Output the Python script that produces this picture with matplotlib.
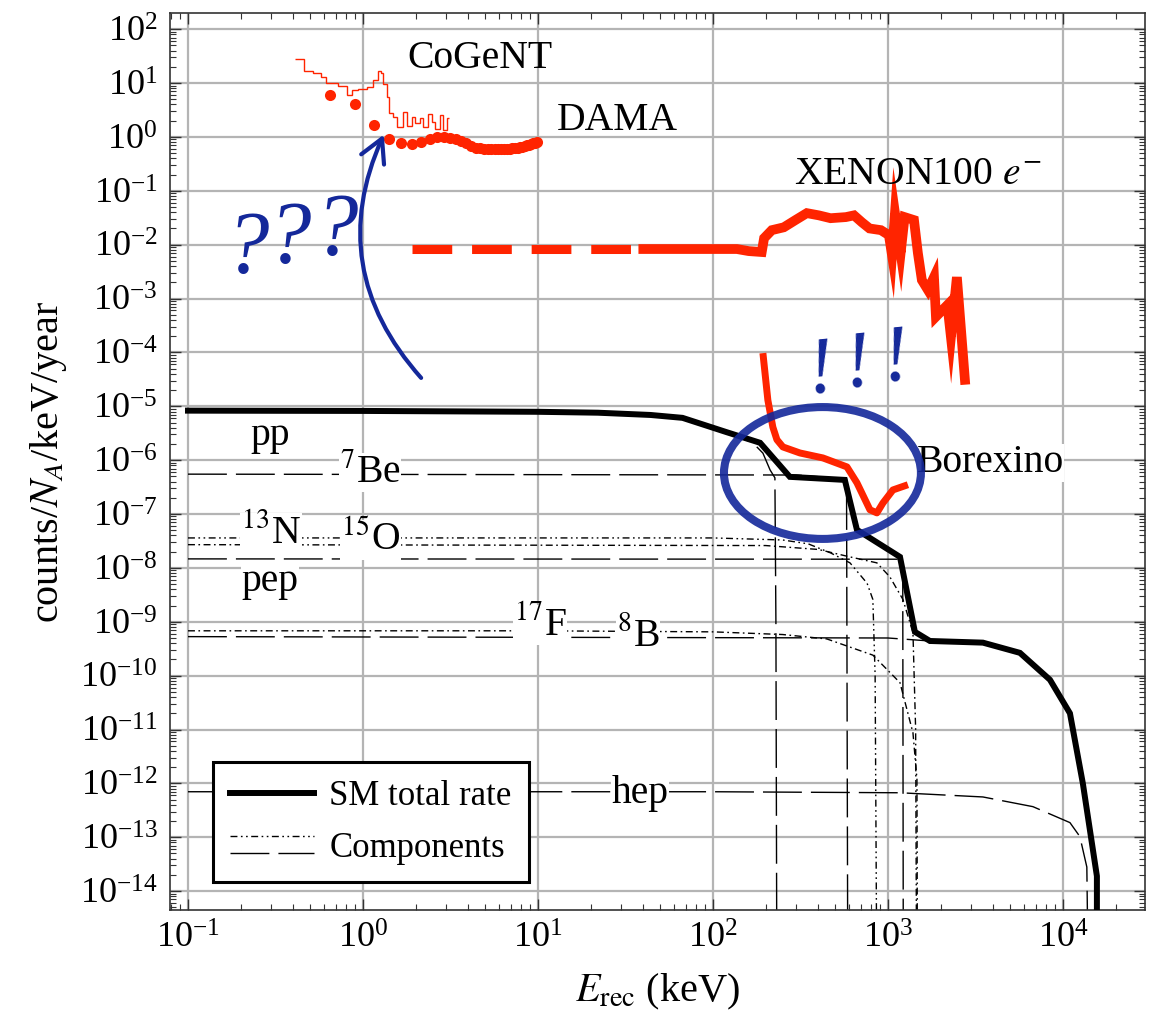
import numpy as np
import matplotlib
matplotlib.use("Agg")
import matplotlib.pyplot as plt
from matplotlib.lines import Line2D
from matplotlib.patches import Ellipse, FancyArrowPatch
from matplotlib.legend_handler import HandlerBase
from matplotlib.ticker import LogLocator, NullFormatter

plt.rcParams['font.family'] = ['Liberation Serif', 'DejaVu Serif']
plt.rcParams['mathtext.fontset'] = 'stix'

# --- SM total rate (keV, counts/N_A/keV/year)
sm_x = [0.1, 1.0, 10, 22, 44, 67, 120, 186, 275, 567, 665, 1172, 1426, 1738,
        3490, 5680, 8430, 10970, 13000, 15640, 15640]
sm_y = [8.3e-6, 8.2e-6, 7.9e-6, 7.6e-6, 6.9e-6, 6.1e-6, 3.3e-6, 2.1e-6, 4.9e-7,
        4.3e-7, 5.1e-8, 1.6e-8, 6.5e-10, 4.4e-10, 4.1e-10, 2.65e-10, 8.4e-11,
        2.0e-11, 1.0e-12, 1.9e-14, 1e-16]

# --- components
pp_x = [0.1, 1.0, 10, 44, 67, 120, 169, 193, 212, 226, 229, 232]
pp_y = [8.3e-6, 8.2e-6, 7.9e-6, 6.9e-6, 6.1e-6, 3.3e-6, 2.1e-6, 1.35e-6, 6.6e-7,
        4.7e-7, 1e-9, 1e-16]
be7_x = [0.1, 300, 580, 590]
be7_y = [5.5e-7, 5.3e-7, 4.5e-7, 1e-16]
n13_x = [0.1, 100, 250, 350, 470, 607, 760, 820, 845, 865]
n13_y = [3.6e-8, 3.6e-8, 3.3e-8, 2.8e-8, 1.9e-8, 1.24e-8, 5.2e-9, 2.6e-9, 1e-10, 1e-16]
o15_x = [0.1, 200, 400, 607, 865, 1026, 1218, 1390, 1440, 1460]
o15_y = [2.7e-8, 2.6e-8, 2.2e-8, 1.6e-8, 1.24e-8, 6.8e-9, 2.6e-9, 6.3e-10, 1e-11, 1e-16]
pep_x = [0.1, 1215, 1225]
pep_y = [1.47e-8, 1.45e-8, 1e-16]
f17_x = [0.1, 10, 100, 250, 448, 821, 1172, 1390, 1465, 1475]
f17_y = [6.8e-10, 6.8e-10, 6.5e-10, 5.8e-10, 4.8e-10, 2.4e-10, 7.4e-11, 8.7e-12,
         1.2e-12, 1e-16]
b8_x = [0.1, 1000, 1738, 3490, 5680, 8430, 10970, 13000, 15640, 15700]
b8_y = [5.3e-10, 5.0e-10, 4.4e-10, 4.1e-10, 2.65e-10, 8.4e-11, 2.0e-11, 1.0e-12,
        1.9e-14, 1e-16]
hep_x = [0.1, 100, 1172, 3490, 6740, 10970, 12500, 13700, 14000]
hep_y = [7e-13, 7e-13, 6.7e-13, 5.6e-13, 3.7e-13, 1.87e-13, 1.03e-13, 2.8e-14, 1e-16]

# --- experiments
cogent_edges = [0.408, 0.46, 0.52, 0.573, 0.615, 0.723, 0.813, 0.861, 0.94, 1.05,
                1.135, 1.213, 1.262, 1.306, 1.365, 1.413, 1.476, 1.57, 1.70, 1.78,
                1.90, 1.98, 2.12, 2.21, 2.36, 2.47, 2.58, 2.75, 2.88, 3.01, 3.10]
cogent_vals = [27.4, 16.8, 15.1, 12.7, 10.1, 8.75, 6.1, 7.4, 7.9, 8.3, 11.3, 16.6,
               15.1, 9.8, 5.5, 2.73, 2.36, 1.54, 2.92, 1.6, 2.36, 1.78, 2.2, 1.54,
               2.72, 1.91, 1.43, 2.53, 1.33, 2.2]

dama_x = [0.65, 0.9, 1.15, 1.4, 1.65, 1.9, 2.15, 2.4, 2.65, 2.9, 3.15, 3.4, 3.65,
          3.9, 4.15, 4.4, 4.65, 4.9, 5.15, 5.4, 5.65, 5.9, 6.15, 6.4, 6.65, 6.9,
          7.15, 7.4, 7.65, 7.9, 8.15, 8.4, 8.65, 8.9, 9.15, 9.4, 9.65, 9.9]
dama_y = [6.0, 4.0, 1.7, 0.9, 0.78, 0.73, 0.82, 0.93, 0.98, 1.0, 0.97, 0.92, 0.84,
          0.76, 0.67, 0.63, 0.61, 0.6, 0.6, 0.6, 0.6, 0.6, 0.6, 0.6, 0.6, 0.6,
          0.61, 0.62, 0.63, 0.64, 0.66, 0.68, 0.7, 0.72, 0.74, 0.76, 0.77, 0.79]

xe_dash_x = [1.9, 40]
xe_dash_y = [8.3e-3, 8.3e-3]
xe_x = [40, 137, 160, 190, 196, 217, 254, 296, 344, 403, 470, 575, 640, 710, 785,
        912, 1013, 1055, 1097, 1182, 1245, 1409, 1483, 1563, 1693, 1833, 1881,
        2188, 2291, 2478, 2754]
xe_y = [8.3e-3, 8.3e-3, 7.6e-3, 7.3e-3, 1.32e-2, 1.86e-2, 2.1e-2, 2.86e-2, 3.85e-2,
        3.5e-2, 3.1e-2, 3.25e-2, 3.5e-2, 2.6e-2, 2.0e-2, 1.86e-2, 1.5e-2, 6.4e-3,
        3.85e-2, 7e-3, 3.25e-2, 2.86e-2, 7e-3, 2.2e-3, 1.44e-3, 2.5e-3, 4.6e-4,
        7.6e-4, 1.94e-4, 2.5e-3, 3.1e-5]

borex_x = [193, 206, 220, 232, 251, 314, 425, 583, 665, 789, 865, 936, 1068, 1301]
borex_y = [9.7e-5, 1.3e-5, 4.1e-6, 2.4e-6, 1.76e-6, 1.36e-6, 1.1e-6, 7.5e-7, 3.8e-7,
           1.2e-7, 1.05e-7, 1.6e-7, 2.8e-7, 3.5e-7]

RED = '#ff2400'
BLUE = '#14289a'
LONG = (0, (28, 6.5))
DDOT = (0, (5, 2.5, 1.2, 2.5, 1.2, 2.5))
DDASH = (0, (5, 2.5, 1.2, 2.5))


class StackedHandler(HandlerBase):
    def create_artists(self, legend, orig_handle, xdescent, ydescent,
                       width, height, fontsize, trans):
        arts = []
        for h, f in zip(orig_handle, (0.85, 0.15)):
            y = -ydescent + f * height
            ln = Line2D([-xdescent, -xdescent + width], [y, y])
            ln.update_from(h)
            ln.set_transform(trans)
            arts.append(ln)
        return arts


fig = plt.figure(figsize=(11.61, 10.25), dpi=100)
ax = fig.add_axes([0.1464, 0.1122, 0.8398, 0.8751])
ax.set_xscale('log')
ax.set_yscale('log')
ax.set_xlim(10 ** -1.103, 10 ** 4.469)
ax.set_ylim(10 ** -14.35, 10 ** 2.3)

ax.grid(True, which='major', color='#b4b4b4', lw=1.6)
ax.set_axisbelow(True)

# components
thin = dict(color='black', lw=1.0, zorder=2)
ax.plot(pp_x, pp_y, ls=LONG, **thin)
ax.plot(be7_x, be7_y, ls=LONG, **thin)
ax.plot(n13_x, n13_y, ls=DDOT, **thin)
ax.plot(o15_x, o15_y, ls=DDASH, **thin)
ax.plot(pep_x, pep_y, ls=LONG, **thin)
ax.plot(f17_x, f17_y, ls=DDASH, **thin)
ax.plot(b8_x, b8_y, ls=LONG, **thin)
ax.plot(hep_x, hep_y, ls=LONG, **thin)

sm_line, = ax.plot(sm_x, sm_y, color='black', lw=4.3, zorder=3,
                   solid_joinstyle='miter')

# experiments
ax.stairs(cogent_vals, cogent_edges, baseline=None, color=RED, lw=1.0, zorder=3)
ax.plot(dama_x, dama_y, 'o', color=RED, ms=8, mec='none', zorder=3)
ax.plot(xe_dash_x, xe_dash_y, color=RED, lw=6.5, ls=(0, (4.4, 2.2)),
        solid_capstyle='butt', dash_capstyle='butt', zorder=3)
ax.plot(xe_x, xe_y, color=RED, lw=7, zorder=3, solid_joinstyle='miter')
ax.plot(borex_x, borex_y, color=RED, lw=5, zorder=3, solid_capstyle='butt')

# labels
FS = 28.5
lab = dict(ha='center', va='center', fontsize=FS, zorder=4,
           bbox=dict(facecolor='white', edgecolor='none', pad=0.5))
ax.text(0.294, 2.9e-6, 'pp', **lab)
ax.text(1.1, 5.8e-7, r'$^{7}$Be', **lab)
ax.text(0.298, 4.5e-8, r'$^{13}$N', **lab)
ax.text(1.1, 3.3e-8, r'$^{15}$O', **lab)
ax.text(0.294, 5.5e-9, 'pep', **lab)
ax.text(10.3, 8.7e-10, r'$^{17}$F', **lab)
ax.text(37.3, 5.5e-10, r'$^{8}$B', **lab)
ax.text(38.3, 6.5e-13, 'hep', **lab)
ax.text(3830, 8.9e-7, 'Borexino', **lab)
ax.text(4.67, 29, 'CoGeNT', ha='center', va='center', fontsize=FS)
ax.text(28.3, 2.05, 'DAMA', ha='center', va='center', fontsize=FS)
ax.text(1480, 0.2, r'XENON100 $e^{-}$', ha='center', va='center', fontsize=FS)

# hand-drawn annotations
ax.add_patch(Ellipse((0.6692, 0.4872), 0.202, 0.147, transform=ax.transAxes,
                     fill=False, edgecolor=BLUE, lw=5.8, alpha=0.9, zorder=5))
ax.add_patch(FancyArrowPatch((0.2595, 0.5909), (0.2205, 0.8673),
                             transform=ax.transAxes,
                             connectionstyle='arc3,rad=-0.33',
                             arrowstyle='->,head_length=0.55,head_width=0.3',
                             mutation_scale=30, color=BLUE, lw=3, zorder=5))
for qx, qy in zip([0.217, 0.378, 0.70], [7.9e-3, 1.22e-2, 1.71e-2]):
    ax.text(qx, qy, '?', fontsize=64, style='italic', color=BLUE,
            ha='center', va='center', zorder=5)
for ex, ey in zip([414, 674, 1112], [4.3e-5, 5.6e-5, 7.2e-5]):
    ax.text(ex, ey, '!', fontsize=58, style='italic', color=BLUE,
            ha='center', va='center', zorder=5, rotation=6)

# axes styling
ax.xaxis.set_major_locator(LogLocator(base=10, numticks=30))
ax.yaxis.set_major_locator(LogLocator(base=10, numticks=30))
ax.xaxis.set_minor_locator(LogLocator(base=10, subs=np.arange(2, 10), numticks=100))
ax.yaxis.set_minor_locator(LogLocator(base=10, subs=np.arange(2, 10), numticks=100))
ax.xaxis.set_minor_formatter(NullFormatter())
ax.yaxis.set_minor_formatter(NullFormatter())
ax.tick_params(which='both', direction='in', top=True, right=True,
               color='#333333', labelsize=26)
ax.tick_params(which='major', length=8, width=1, pad=9)
ax.tick_params(which='minor', length=4, width=0.8)
for sp in ax.spines.values():
    sp.set_color('#333333')
    sp.set_linewidth(1.2)

ax.set_xlabel(r'$E_{\rm rec}$ (keV)', fontsize=29, labelpad=12)
ax.set_ylabel(r'counts/$N_A$/keV/year', fontsize=29, labelpad=8)

# legend
h_dd = Line2D([], [], color='black', lw=1.0, ls=DDOT)
h_ld = Line2D([], [], color='black', lw=1.0, ls=LONG)
leg = ax.legend([sm_line, (h_dd, h_ld)], ['SM total rate', 'Components'],
                handler_map={tuple: StackedHandler()},
                loc='lower left', bbox_to_anchor=(0.044, 0.031),
                borderaxespad=0, fontsize=25, fancybox=False, framealpha=1,
                edgecolor='black', handlelength=2.4, handletextpad=0.45,
                labelspacing=0.55, borderpad=0.5)
leg.get_frame().set_linewidth(2.2)
leg.set_zorder(6)

fig.savefig('out.png', dpi=100)
